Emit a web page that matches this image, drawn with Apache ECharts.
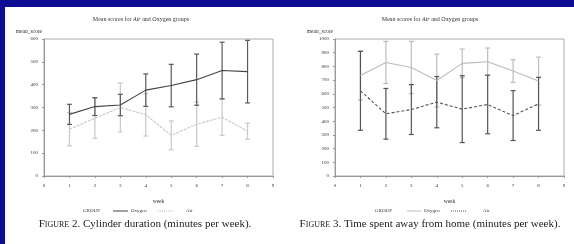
<!DOCTYPE html>
<html>
<head>
<meta charset="utf-8">
<script src="https://cdn.jsdelivr.net/npm/echarts@6/dist/echarts.min.js"></script>
<style>
  html, body { margin: 0; padding: 0; background: #fff; }
  #main { width: 574px; height: 244px; }
</style>
</head>
<body>
<div id="main"></div>
<script>
// weeks on the x axis
const weeks = [1, 2, 3, 4, 5, 6, 7, 8];

// Figure 2 - cylinder duration (minutes per week), mean and half-width of bar
const cylOxygenMean = [270, 304, 311, 376, 396, 422, 462, 457];
const cylOxygenErr  = [44, 39, 47, 71, 93, 112, 124, 137];
const cylAirMean    = [205, 253, 300, 268, 178, 227, 257, 196];
const cylAirErr     = [73, 88, 107, 93, 63, 97, 79, 35];

// Figure 3 - time spent away from home (minutes per week)
const awayOxygenMean = [734, 829, 792, 697, 822, 834, 766, 693];
const awayOxygenErr  = [178, 154, 191, 193, 105, 100, 83, 175];
const awayAirMean    = [622, 454, 485, 539, 488, 522, 441, 527];
const awayAirErr     = [288, 185, 182, 187, 244, 214, 182, 193];

const FONT = 'Liberation Serif';
const TXT = '#333';

const pts = (mean) => weeks.map((w, i) => [w, mean[i]]);
const bars = (mean, err) => weeks.map((w, i) => [w, mean[i] - err[i], mean[i] + err[i]]);

// vertical bar with small caps at both ends
function errorBar(params, api) {
  const x = api.value(0);
  const lo = api.coord([x, api.value(1)]);
  const hi = api.coord([x, api.value(2)]);
  const cap = 2.5;
  const style = { stroke: api.visual('color'), lineWidth: 1.2, fill: null };
  return {
    type: 'group',
    children: [
      { type: 'line', shape: { x1: lo[0], y1: lo[1], x2: hi[0], y2: hi[1] }, style: style },
      { type: 'line', shape: { x1: lo[0] - cap, y1: lo[1], x2: lo[0] + cap, y2: lo[1] }, style: style },
      { type: 'line', shape: { x1: hi[0] - cap, y1: hi[1], x2: hi[0] + cap, y2: hi[1] }, style: style },
    ],
  };
}

function errSeries(idx, data, color) {
  return {
    type: 'custom',
    xAxisIndex: idx,
    yAxisIndex: idx,
    renderItem: errorBar,
    itemStyle: { color: color },
    encode: { x: 0, y: [1, 2] },
    data: data,
    silent: true,
  };
}

function lineSeries(idx, name, data, color, type) {
  return {
    type: 'line',
    name: name,
    xAxisIndex: idx,
    yAxisIndex: idx,
    symbol: 'none',
    lineStyle: { color: color, width: 1.1, type: type },
    itemStyle: { color: color },
    data: data,
    silent: true,
  };
}

function xAxisOf(idx) {
  return {
    gridIndex: idx,
    type: 'value',
    min: 0,
    max: 9,
    interval: 1,
    name: 'week',
    nameLocation: 'middle',
    nameGap: 23,
    nameTextStyle: { fontFamily: FONT, fontSize: 5.5, color: TXT },
    axisLine: { lineStyle: { color: '#999', width: 1 } },
    axisTick: { length: 2, lineStyle: { color: '#999' } },
    axisLabel: { margin: 7, fontFamily: FONT, fontSize: 5, color: TXT },
    splitLine: { show: false },
  };
}

function yAxisOf(idx, max) {
  return {
    gridIndex: idx,
    type: 'value',
    min: 0,
    max: max,
    interval: 100,
    name: 'mean_score',
    nameLocation: 'end',
    nameGap: 7,
    nameTextStyle: { fontFamily: FONT, fontSize: 5.5, color: TXT, align: 'right', verticalAlign: 'middle', padding: [0, 2, 0, 0] },
    axisLine: { show: true, lineStyle: { color: '#999', width: 1 } },
    axisTick: { show: true, length: 2, lineStyle: { color: '#999' } },
    axisLabel: { margin: 6, fontFamily: FONT, fontSize: 5, color: TXT, formatter: (v) => String(v) },
    splitLine: { show: false },
  };
}

// legend drawn by hand: sample line + label, at the SAS legend slots
function legendKey(x1, x2, y, color, dash) {
  return { type: 'line', shape: { x1: x1, y1: y, x2: x2, y2: y }, style: { stroke: color, lineWidth: 1, lineDash: dash }, silent: true };
}
function label(x, y, text, size) {
  return { type: 'text', x: x, y: y, style: { text: text, fontFamily: FONT, fontSize: size || 5, fill: TXT, verticalAlign: 'middle' }, silent: true };
}

const titleText = '{n|Mean scores for }{i|Air}{n| and Oxygen groups}';
const titleRich = {
  n: { fontFamily: FONT, fontSize: 6, color: TXT, fontWeight: 'normal' },
  i: { fontFamily: FONT, fontSize: 6, color: TXT, fontWeight: 'normal', fontStyle: 'italic' },
};
const capRich = {
  b: { fontFamily: FONT, fontSize: 11, color: '#222', fontWeight: 'normal' },
  s: { fontFamily: FONT, fontSize: 8, color: '#222', fontWeight: 'normal' },
};

const chart = echarts.init(document.getElementById('main'), null, { renderer: 'canvas' });

chart.setOption({
  backgroundColor: '#fff',
  animation: false,
  title: [
    { text: titleText, left: 141, top: 16, textAlign: 'center', padding: 0, textStyle: { fontWeight: 'normal', rich: titleRich } },
    { text: titleText, left: 430, top: 16, textAlign: 'center', padding: 0, textStyle: { fontWeight: 'normal', rich: titleRich } },
    { text: '{b|F}{s|IGURE}{b| 2. Cylinder duration (minutes per week).}', left: 145, top: 219, textAlign: 'center', padding: 0, textStyle: { fontWeight: 'normal', rich: capRich } },
    { text: '{b|F}{s|IGURE}{b| 3. Time spent away from home (minutes per week).}', left: 430, top: 219, textAlign: 'center', padding: 0, textStyle: { fontWeight: 'normal', rich: capRich } },
  ],
  grid: [
    { left: 44, top: 39, width: 229, height: 137, show: true, borderColor: '#aaa', borderWidth: 1, containLabel: false },
    { left: 335, top: 39, width: 229, height: 137, show: true, borderColor: '#aaa', borderWidth: 1, containLabel: false },
  ],
  xAxis: [xAxisOf(0), xAxisOf(1)],
  yAxis: [yAxisOf(0, 600), yAxisOf(1, 1000)],
  graphic: [
    { type: 'rect', left: 0, top: 0, shape: { width: 574, height: 7 }, style: { fill: '#0d0d94' }, silent: true },
    { type: 'rect', left: 0, top: 0, shape: { width: 5, height: 244 }, style: { fill: '#0d0d94' }, silent: true },
    // left legend
    label(83, 211, 'GROUP'),
    legendKey(113, 128, 211, '#444', null),
    label(131, 211, 'Oxygen'),
    legendKey(158, 173, 211, '#bbb', [1, 1]),
    label(186, 211, 'Air'),
    // right legend
    label(375, 211, 'GROUP'),
    legendKey(407, 421, 211, '#bbb', null),
    label(424, 211, 'Oxygen'),
    legendKey(451, 466, 211, '#555', [1, 1]),
    label(483, 211, 'Air'),
  ],
  series: [
    // Figure 2
    errSeries(0, bars(cylAirMean, cylAirErr), '#c8c8c8'),
    errSeries(0, bars(cylOxygenMean, cylOxygenErr), '#5a5a5a'),
    lineSeries(0, 'Air', pts(cylAirMean), '#c8c8c8', [3, 1]),
    lineSeries(0, 'Oxygen', pts(cylOxygenMean), '#444', 'solid'),
    // Figure 3
    errSeries(1, bars(awayOxygenMean, awayOxygenErr), '#bdbdbd'),
    errSeries(1, bars(awayAirMean, awayAirErr), '#555'),
    lineSeries(1, 'Oxygen', pts(awayOxygenMean), '#bbb', 'solid'),
    lineSeries(1, 'Air', pts(awayAirMean), '#555', [3, 2]),
  ],
});
</script>
</body>
</html>
